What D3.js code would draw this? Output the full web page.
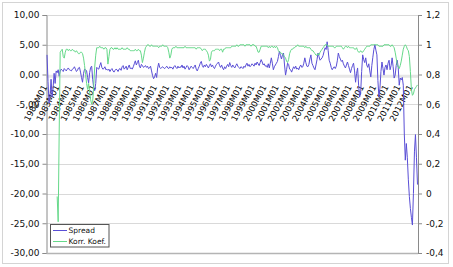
<!DOCTYPE html>
<html><head><meta charset="utf-8">
<script src="https://cdn.jsdelivr.net/npm/d3@7"></script>
<style>body{margin:0;background:#fff}svg{display:block}text{font-family:"DejaVu Sans",Verdana,sans-serif}</style>
</head><body><svg id="c" width="453" height="267"></svg>
<script>
const startYear = 1982;
const leftTicks = [10, 5, 0, -5, -10, -15, -20, -25, -30];
const rightTicks = [1.2, 1, 0.8, 0.6, 0.4, 0.2, 0, -0.2, -0.4];
const seriesNames = ["Spread", "Korr. Koef."];
const seriesColors = ["#5a4fd6", "#66d98a"];

// Spread, monthly from 1982M01 (left axis)
const spread = [
  3.3, -1.2, -4.8, -3.5, -0.8, -3.8, -2.2, 0.2, -1.5, 0.6, 0.3, 0.8,
  -0.3, 0.6, 0.9, 0.7, 0.5, 1.0, 0.8, 0.6, 0.9, 1.1, 0.8, 0.7,
  0.6, 0.9, 1.0, 1.3, 0.9, 0.5, 0.7, 1.1, 1.2, 0.4, -0.5, -1.3,
  0.2, 0.9, 0.8, 0.6, -0.5, -1.4, 0.3, 1.2, 1.4, -0.8, -2.2, -2.7,
  -1.5, 1.2, 1.0, 0.9, 1.5, 2.0, 1.2, 0.9, 1.0, 1.3, 0.8, 0.9,
  0.7, 0.9, 0.5, 0.8, 1.0, 0.6, 0.4, 0.7, 0.9, 0.8, 0.5, 0.9,
  1.0, 0.7, 1.3, 1.5, 0.9, 1.1, 1.4, 0.8, 1.2, 1.6, 1.0, 1.1,
  0.9, 1.3, 1.8, 2.3, 1.6, 2.0, 2.4, 1.4, 1.1, 1.7, 1.5, 1.2,
  1.3, 1.5, 1.2, 1.4, 1.0, 1.1, 1.4, 0.6, -0.2, -0.7, -0.4, 0.2,
  -0.5, 1.1, 1.9, 1.2, 1.0, 1.2, 1.3, 1.1, 1.0, 1.2, 1.4, 1.1,
  1.0, 1.3, 1.1, 1.2, 0.9, 1.3, 1.5, 1.2, 1.0, 1.4, 1.1, 1.3,
  1.2, 1.6, 1.1, 1.4, 0.9, 1.2, 1.5, 1.3, 0.8, 1.1, 1.4, 1.2,
  1.0, 1.3, 1.6, 0.9, 0.6, 1.0, 1.4, 1.9, 2.2, 1.5, 1.2, 1.6,
  1.3, 1.7, 1.4, 1.1, 1.5, 1.8, 1.3, 1.6, 1.2, 1.0, 1.4, 1.7,
  1.9, 2.1, 1.5, 1.2, 1.6, 1.1, 0.8, 1.3, 1.0, 1.4, 1.7, 1.3,
  2.0, 1.5, 1.2, 1.6, 1.3, 1.1, 1.5, 1.8, 1.4, 1.2, 1.0, 1.3,
  1.2, 1.0, 1.4, 1.2, 1.6, 1.9, 1.4, 1.7, 1.3, 1.5, 1.8, 1.6,
  1.4, 1.9, 1.6, 2.1, 1.8, 1.5, 2.0, 2.5, 2.1, 1.6, 1.8, 1.4,
  1.5, 1.2, 1.8, 1.1, 1.9, 2.8, 1.9, 0.8, 1.3, 1.6, 1.9, 2.2,
  3.0, 3.9, 3.2, 2.6, 3.3, 3.6, 1.6, -0.1, 0.8, 1.9, 1.7, 0.9,
  0.8, 0.4, 0.9, 1.3, 1.0, 1.4, 0.9, 1.1, 0.8, 1.3, 1.6, 1.2,
  1.3, 1.9, 2.8, 2.0, 1.4, 1.3, 1.7, 2.6, 3.3, 1.9, 1.5, 1.1,
  0.8, 1.6, 2.5, 3.6, 3.0, 2.4, 2.6, 2.8, 3.2, 3.9, 4.5, 4.2,
  5.5, 4.0, 2.4, 1.9, 1.2, 0.8, 1.1, 1.3, 1.0, 1.4, 2.3, 3.6,
  3.0, 2.6, 2.2, 2.4, 1.8, 1.4, 1.1, 1.6, 2.1, 1.5, 0.9, 0.3,
  1.0, 1.5, 1.9, 0.6, -1.3, 0.2, 1.1, -1.8, -3.8, -3.1, 0.5, 3.3,
  2.5, 2.0, 2.8, 1.6, 1.2, 1.8, 0.6, -0.4, 1.5, 2.9, 4.2, 5.0,
  4.1, 3.3, -1.0, -3.8, -2.3, 0.5, 2.1, 1.0, -0.1, 1.2, 1.6, 0.8,
  1.9, 2.4, 0.8, 1.5, 2.8, 1.3, -0.6, -0.1, 1.5, 2.4, 1.2, -1.8,
  -0.6, -0.9, -0.5, -1.8, -10.0, -14.4, -11.6, -14.0, -17.7, -20.5, -22.5, -24.0,
  -25.3, -20.0, -13.0, -10.1, -14.0, -18.5
];

// Korr. Koef., monthly from 1982M01 (right axis)
const korr = [
  null, null, null, null, null, null, null, null, null, null, -0.02, -0.19,
  0.42, 0.95, 0.96, 0.97, 0.92, 0.91, 0.95, 0.97, 0.97, 0.96, 0.97, 0.96,
  0.96, 0.97, 0.96, 0.96, 0.95, 0.96, 0.95, 0.94, 0.94, 0.95, 0.95, 0.94,
  0.91, 0.86, 0.80, 0.74, 0.70, 0.74, 0.68, 0.63, 0.60, 0.62, 0.72, 0.85,
  0.93, 0.98, 0.98, 0.98, 0.99, 0.98, 0.98, 0.98, 0.97, 0.98, 0.98, 0.97,
  0.87, 0.92, 0.97, 0.98, 0.98, 0.97, 0.97, 0.98, 0.97, 0.98, 0.97, 0.97,
  0.97, 0.97, 0.98, 0.97, 0.97, 0.97, 0.97, 0.98, 0.97, 0.97, 0.96, 0.96,
  0.96, 0.96, 0.96, 0.97, 0.96, 0.96, 0.97, 0.96, 0.96, 0.93, 0.88, 0.91,
  0.95, 0.98, 0.99, 1.00, 1.00, 0.99, 0.99, 1.00, 0.99, 0.99, 0.99, 0.99,
  0.99, 0.99, 0.98, 0.99, 0.99, 0.99, 1.00, 0.99, 0.99, 0.99, 0.99, 0.98,
  0.95, 0.91, 0.93, 0.97, 0.98, 0.98, 0.98, 0.99, 0.98, 0.98, 0.98, 0.98,
  0.98, 0.98, 0.98, 0.98, 0.99, 0.98, 0.98, 0.98, 0.98, 0.98, 0.98, 0.98,
  0.98, 0.98, 0.98, 0.97, 0.98, 0.98, 0.98, 0.98, 0.97, 0.96, 0.97, 0.97,
  0.97, 0.96, 0.95, 0.93, 0.89, 0.90, 0.95, 0.96, 0.96, 0.96, 0.97, 0.97,
  0.97, 0.97, 0.96, 0.97, 0.97, 0.95, 0.97, 0.97, 0.98, 0.98, 0.98, 0.98,
  0.98, 0.98, 0.99, 0.99, 0.99, 0.99, 0.99, 1.00, 0.99, 0.99, 1.00, 1.00,
  1.00, 1.00, 1.00, 0.99, 1.00, 1.00, 1.00, 1.00, 1.00, 0.99, 1.00, 1.00,
  1.00, 0.99, 0.99, 0.97, 0.95, 0.95, 0.97, 0.99, 0.99, 0.99, 0.99, 0.99,
  0.99, 0.99, 0.98, 0.99, 0.98, 0.99, 0.99, 0.98, 0.99, 0.98, 0.99, 0.98,
  0.96, 0.95, 0.95, 0.94, 0.94, 0.93, 0.92, 0.91, 0.89, 0.88, 0.90, 0.94,
  0.96, 0.97, 0.97, 0.98, 0.98, 0.99, 0.99, 1.00, 0.99, 0.99, 0.99, 0.99,
  0.99, 0.99, 0.98, 0.99, 0.98, 0.98, 0.98, 0.98, 0.97, 0.96, 0.96, 0.95,
  0.94, 0.93, 0.93, 0.94, 0.93, 0.95, 0.96, 0.97, 0.98, 0.99, 1.00, 1.00,
  1.00, 0.99, 0.99, 0.99, 0.99, 0.99, 0.99, 0.98, 0.98, 0.99, 0.99, 0.99,
  0.99, 0.99, 0.99, 0.98, 0.97, 0.98, 0.99, 0.99, 0.98, 0.99, 0.98, 0.98,
  0.98, 0.98, 0.98, 0.97, 0.97, 0.98, 0.96, 0.95, 0.95, 0.96, 0.95, 0.95,
  0.96, 0.97, 0.98, 0.99, 0.99, 0.99, 0.99, 1.00, 1.00, 1.00, 1.00, 1.00,
  1.00, 1.00, 1.00, 0.99, 0.99, 0.99, 0.99, 0.99, 1.00, 1.00, 1.00, 1.00,
  1.00, 1.00, 0.99, 0.99, 1.00, 0.99, 0.98, 0.95, 0.91, 0.87, 0.85, 0.84,
  0.86, 0.89, 0.93, 0.97, 0.99, 1.00, 0.99, 0.97, 0.96, 0.92, 0.82, 0.70,
  0.66, 0.67, 0.70, 0.71, 0.72, 0.73
];

const categories = spread.map((_, i) =>
  `${startYear + Math.floor(i / 12)}M${String(i % 12 + 1).padStart(2, "0")}`);
const labelCats = categories.filter(c => c.endsWith("M01"));

const svg = d3.select("#c");
const L = 46.5, R = 418, T = 15, B = 253;

const x = d3.scaleBand().domain(categories).range([L, R]);
const xc = c => x(c) + x.bandwidth() / 2;
const yL = d3.scaleLinear().domain([-30, 10]).range([B, T]);
const yR = d3.scaleLinear().domain([-0.4, 1.2]).range([B, T]);
const comma = v => String(v).replace(".", ",");
const fmtL = v => v.toFixed(2).replace(".", ",");

// outer frame
svg.append("rect").attr("x", 2.5).attr("y", 2.5).attr("width", 446).attr("height", 261)
  .attr("fill", "#fff").attr("stroke", "#d4d4d4");

// gridlines
svg.append("g").selectAll("line").data(leftTicks).join("line")
  .attr("x1", L).attr("x2", R).attr("y1", d => Math.round(yL(d)) + 0.5).attr("y2", d => Math.round(yL(d)) + 0.5)
  .attr("stroke", "#d9d9d9");

// category axis band at zero
svg.append("line").attr("x1", L).attr("x2", R)
  .attr("y1", yL(0) + 1.8).attr("y2", yL(0) + 1.8)
  .attr("stroke", "#e6e6e6").attr("stroke-width", 3);

// left axis
const gl = svg.append("g").attr("transform", `translate(${L},0)`)
  .call(d3.axisLeft(yL).tickValues(leftTicks).tickFormat(fmtL).tickSize(4).tickPadding(3));
gl.select(".domain").attr("stroke", "#8a8a8a");
gl.selectAll(".tick line").attr("stroke", "#8a8a8a");
gl.selectAll("text").attr("font-size", 9).attr("fill", "#111").style("font-family", "DejaVu Sans");

// right axis
const gr = svg.append("g").attr("transform", `translate(${R},0)`)
  .call(d3.axisRight(yR).tickValues(rightTicks).tickFormat(comma).tickSize(4).tickPadding(4));
gr.select(".domain").attr("stroke", "#8a8a8a");
gr.selectAll(".tick line").attr("stroke", "#8a8a8a");
gr.selectAll("text").attr("font-size", 9).attr("fill", "#111").style("font-family", "DejaVu Sans");

// bottom plot border
svg.append("line").attr("x1", L).attr("x2", R).attr("y1", B + 0.5).attr("y2", B + 0.5)
  .attr("stroke", "#b4b4b4").attr("stroke-width", 1.5);

// category labels
const gx = svg.append("g").attr("transform", `translate(0,${yL(0)})`)
  .call(d3.axisBottom(x).tickValues(labelCats).tickSize(0).tickPadding(0));
gx.select(".domain").remove();
gx.selectAll(".tick text")
  .attr("font-size", 8.5).attr("fill", "#000").style("font-family", "DejaVu Sans")
  .attr("text-anchor", "end").attr("dy", null).attr("y", 0)
  .attr("dominant-baseline", "central")
  .attr("transform", "translate(-2,11) rotate(-62)");

// series
const lineL = d3.line().defined(d => d != null).x((d, i) => xc(categories[i])).y(d => yL(d));
const lineR = d3.line().defined(d => d != null).x((d, i) => xc(categories[i])).y(d => yR(d));
svg.append("path").datum(spread).attr("d", lineL).attr("fill", "none")
  .attr("stroke", seriesColors[0]).attr("stroke-width", 1).attr("stroke-linejoin", "round");
svg.append("path").datum(korr).attr("d", lineR).attr("fill", "none")
  .attr("stroke", seriesColors[1]).attr("stroke-width", 1).attr("stroke-linejoin", "round");

// legend
const lg = svg.append("g");
lg.append("rect").attr("x", 50.5).attr("y", 224.5).attr("width", 58.5).attr("height", 22.5)
  .attr("fill", "#fff").attr("stroke", "#555");
seriesNames.forEach((n, i) => {
  const yy = 230.5 + i * 11;
  lg.append("line").attr("x1", 53).attr("x2", 67).attr("y1", yy).attr("y2", yy)
    .attr("stroke", seriesColors[i]);
  lg.append("text").attr("x", 68.5).attr("y", yy).attr("dominant-baseline", "central")
    .attr("font-size", 7.5).attr("fill", "#111").text(n);
});
</script></body></html>
